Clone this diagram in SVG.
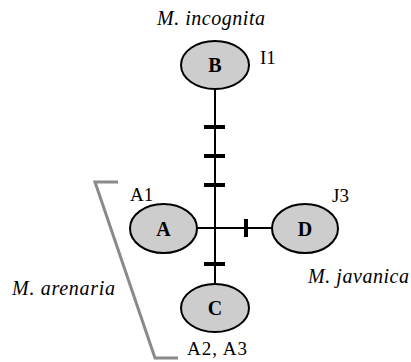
<svg xmlns="http://www.w3.org/2000/svg" width="411" height="362" viewBox="0 0 411 362">
<style>
.node{fill:#cdcdcd;stroke:#000;stroke-width:2}
.lbl{font-family:"Liberation Serif",serif;font-weight:bold;font-size:20px;text-anchor:middle;fill:#000}
.sp{font-family:"Liberation Serif",serif;font-style:italic;font-size:20px;fill:#000}
.hap{font-family:"Liberation Serif",serif;font-size:19px;fill:#000}
.edge{stroke:#000;stroke-width:2;fill:none}
.tick{stroke:#000;stroke-width:4}
.brk{stroke:#8a8a8a;stroke-width:3;fill:none}
</style>
<rect width="411" height="362" fill="#fff"/>
<g id="connectors">
<line class="edge" x1="215" y1="89" x2="215" y2="284"/>
<line class="edge" x1="197" y1="228" x2="272" y2="228"/>
<line class="tick" x1="204" y1="127" x2="225" y2="127"/>
<line class="tick" x1="204" y1="156" x2="225" y2="156"/>
<line class="tick" x1="204" y1="185" x2="225" y2="185"/>
<line class="tick" x1="204" y1="264" x2="225" y2="264"/>
<line class="tick" x1="246" y1="219" x2="246" y2="237"/>
</g>
<g id="bracket">
<polyline class="brk" points="118,182 95,182 155,358 178,358"/>
</g>
<g id="node-B">
<ellipse class="node" cx="215" cy="65" rx="34" ry="24"/>
<text class="lbl" x="215" y="72">B</text>
<text class="hap" x="260" y="64">I1</text>
</g>
<g id="node-A">
<ellipse class="node" cx="163.5" cy="228.5" rx="33.5" ry="24.5"/>
<text class="lbl" x="163.5" y="236">A</text>
<text class="hap" x="130" y="201">A1</text>
</g>
<g id="node-D">
<ellipse class="node" cx="305" cy="228.5" rx="33" ry="24.5"/>
<text class="lbl" x="305" y="236">D</text>
<text class="hap" x="332" y="202">J3</text>
</g>
<g id="node-C">
<ellipse class="node" cx="215" cy="308" rx="34" ry="24"/>
<text class="lbl" x="215" y="315">C</text>
<text class="hap" x="187" y="355" textLength="60">A2, A3</text>
</g>
<g id="species">
<text class="sp" x="157" y="25" textLength="108">M. incognita</text>
<text class="sp" x="12" y="295" textLength="103">M. arenaria</text>
<text class="sp" x="308" y="283" textLength="101">M. javanica</text>
</g>
</svg>
